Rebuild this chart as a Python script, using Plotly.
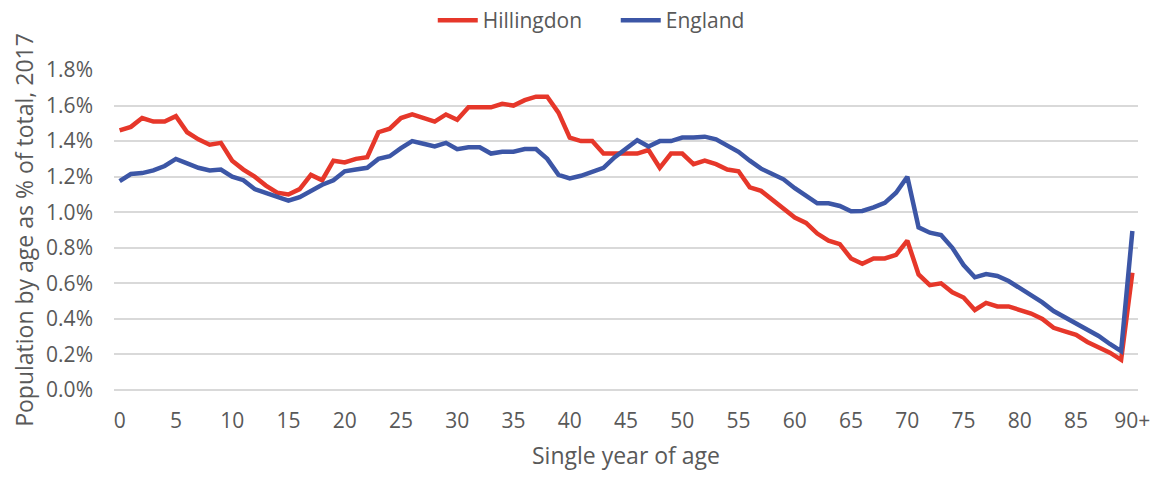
import plotly.graph_objects as go

# Single year of age, 0 .. 90+ (90 covers everyone aged 90 and over)
ages = list(range(0, 91))
tick_vals = list(range(0, 91, 5))
tick_text = [str(v) for v in range(0, 90, 5)] + ["90+"]

# Share of total population at each age, 2017 (percent)
hillingdon = [
    1.46, 1.48, 1.53, 1.51, 1.51, 1.54, 1.45, 1.41, 1.38, 1.39,
    1.29, 1.24, 1.20, 1.15, 1.11, 1.10, 1.13, 1.21, 1.18, 1.29,
    1.28, 1.30, 1.31, 1.45, 1.47, 1.53, 1.55, 1.53, 1.51, 1.55,
    1.52, 1.59, 1.59, 1.59, 1.61, 1.60, 1.63, 1.65, 1.65, 1.56,
    1.42, 1.40, 1.40, 1.33, 1.33, 1.33, 1.33, 1.35, 1.25, 1.33,
    1.33, 1.27, 1.29, 1.27, 1.24, 1.23, 1.14, 1.12, 1.07, 1.02,
    0.97, 0.94, 0.88, 0.84, 0.82, 0.74, 0.71, 0.74, 0.74, 0.76,
    0.84, 0.65, 0.59, 0.60, 0.55, 0.52, 0.45, 0.49, 0.47, 0.47,
    0.45, 0.43, 0.40, 0.35, 0.33, 0.31, 0.27, 0.24, 0.21, 0.17,
    0.66,
]
england = [
    1.175, 1.215, 1.22, 1.235, 1.26, 1.30, 1.275, 1.25, 1.235, 1.24,
    1.20, 1.18, 1.13, 1.11, 1.085, 1.065, 1.085, 1.12, 1.155, 1.18,
    1.23, 1.24, 1.25, 1.30, 1.315, 1.36, 1.40, 1.385, 1.37, 1.39,
    1.355, 1.365, 1.365, 1.33, 1.34, 1.34, 1.355, 1.355, 1.30, 1.21,
    1.19, 1.205, 1.23, 1.25, 1.31, 1.36, 1.405, 1.37, 1.40, 1.40,
    1.42, 1.42, 1.425, 1.41, 1.375, 1.34, 1.29, 1.245, 1.215, 1.185,
    1.135, 1.09, 1.05, 1.05, 1.035, 1.005, 1.007, 1.027, 1.053, 1.11,
    1.20, 0.915, 0.885, 0.872, 0.80, 0.703, 0.634, 0.652, 0.641, 0.613,
    0.572, 0.534, 0.493, 0.444, 0.409, 0.38, 0.343, 0.304, 0.259, 0.219,
    0.894,
]

FONT = "'Open Sans', sans-serif"
GREY = "#595959"

fig = go.Figure()
fig.add_trace(go.Scatter(
    x=ages, y=hillingdon, name="Hillingdon", mode="lines",
    line=dict(color="#E6372A", width=4.5),
))
fig.add_trace(go.Scatter(
    x=ages, y=england, name="England", mode="lines",
    line=dict(color="#3C56A6", width=4.5),
))

fig.update_layout(
    width=1162, height=480,
    margin=dict(l=114, r=16, t=70, b=90),
    paper_bgcolor="white", plot_bgcolor="white",
    font=dict(family=FONT, color=GREY, size=20),
    showlegend=True,
    legend=dict(
        orientation="h", x=0.49, xanchor="center", y=1.0, yanchor="top",
        yref="container", font=dict(size=21, color=GREY),
        itemwidth=40, entrywidth=128, entrywidthmode="pixels",
    ),
    xaxis=dict(
        range=[-0.5, 90.5], tickmode="array", tickvals=tick_vals, ticktext=tick_text,
        showgrid=False, zeroline=False, showline=False, ticks="",
        tickfont=dict(size=21, color=GREY), ticklabelstandoff=16,
        title=dict(text="Single year of age", font=dict(size=23, color=GREY), standoff=14),
    ),
    yaxis=dict(
        range=[0, 1.8], dtick=0.2, tickformat=".1f", ticksuffix="%",
        showgrid=True, gridcolor="#D9D9D9", gridwidth=1.5,
        zeroline=True, zerolinecolor="#D9D9D9", zerolinewidth=1.5,
        ticks="", tickfont=dict(size=21, color=GREY), ticklabelstandoff=20,
        title=dict(text="Population by age as % of total, 2017",
                   font=dict(size=23, color=GREY), standoff=6),
    ),
)

fig.write_html("out.html")
